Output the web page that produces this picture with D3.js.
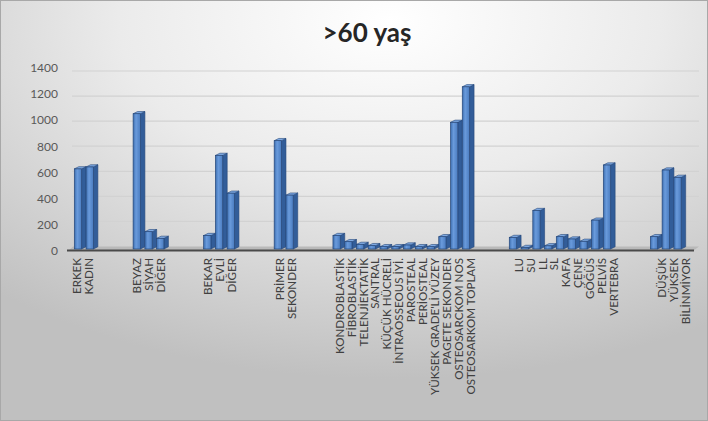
<!DOCTYPE html>
<html>
<head>
<meta charset="utf-8">
<script src="https://cdn.jsdelivr.net/npm/d3@7"></script>
<style>
  html, body { margin: 0; padding: 0; background: #ffffff; }
  svg { display: block; }
</style>
</head>
<body>
<svg id="chart" width="708" height="421"></svg>
<script>
// Category groups and their counts for patients over 60
const sexLabels = ["ERKEK", "KADIN"];
const sexValues = [625, 640];

const raceLabels = ["BEYAZ", "SİYAH", "DİĞER"];
const raceValues = [1055, 135, 83];

const maritalLabels = ["BEKAR", "EVLİ", "DİĞER"];
const maritalValues = [105, 730, 435];

const originLabels = ["PRİMER", "SEKONDER"];
const originValues = [845, 420];

const histologyLabels = ["KONDROBLASTİK", "FİBROBLASTİK", "TELENJİEKTATİK", "SANTRAL",
  "KÜÇÜK HÜCRELİ", "İNTRAOSSEOUS İYİ.", "PAROSTEAL", "PERİOSTEAL",
  "YÜKSEK GRADE'Lİ YÜZEY", "PAGETE SEKONDER", "OSTEOSARCKOM NOS", "OSTEOSARKOM TOPLAM"];
const histologyValues = [105, 57, 36, 26, 18, 18, 31, 18, 18, 96, 988, 1265];

const siteLabels = ["LU", "SU", "LL", "SL", "KAFA", "ÇENE", "GÖĞÜS", "PELVİS", "VERTEBRA"];
const siteValues = [90, 12, 300, 25, 96, 78, 60, 225, 655];

const gradeLabels = ["DÜŞÜK", "YÜKSEK", "BİLİNMİYOR"];
const gradeValues = [96, 616, 559];

const yTicks = [0, 200, 400, 600, 800, 1000, 1200, 1400];
const titleText = ">60 yaş";
const gapSlots = 3;

// Flatten the groups into one run of slots, with empty slots between groups
const groups = [
  [sexLabels, sexValues], [raceLabels, raceValues], [maritalLabels, maritalValues],
  [originLabels, originValues], [histologyLabels, histologyValues],
  [siteLabels, siteValues], [gradeLabels, gradeValues]
];
const slots = [];
groups.forEach(([labels, values], gi) => {
  if (gi > 0) for (let k = 0; k < gapSlots; k++) slots.push({ label: "", value: null });
  labels.forEach((l, i) => slots.push({ label: l, value: values[i] }));
});
const slotIds = d3.range(slots.length);

const svg = d3.select("#chart");
const W = 708, H = 421;

// Background
const defs = svg.append("defs");
const bg = defs.append("radialGradient").attr("id", "bg")
  .attr("cx", "0.55").attr("cy", "0.05").attr("r", "0.85")
  .attr("gradientUnits", "objectBoundingBox");
bg.append("stop").attr("offset", "0").attr("stop-color", "#ffffff");
bg.append("stop").attr("offset", "0.45").attr("stop-color", "#ebebeb");
bg.append("stop").attr("offset", "1").attr("stop-color", "#c0c0c0");

const front = defs.append("linearGradient").attr("id", "barFront")
  .attr("x1", "0").attr("x2", "1").attr("y1", "0").attr("y2", "0");
front.append("stop").attr("offset", "0").attr("stop-color", "#3c6eb0");
front.append("stop").attr("offset", "0.4").attr("stop-color", "#6a9bdc");
front.append("stop").attr("offset", "1").attr("stop-color", "#4a7cc0");

svg.append("rect").attr("width", W).attr("height", H).attr("fill", "url(#bg)");
svg.append("rect").attr("x", 0.5).attr("y", 0.5).attr("width", W - 1).attr("height", H - 1)
  .attr("fill", "none").attr("stroke", "#a8a8a8");

// Scales: labels sit on the front plane, gridlines on the back wall, bars in between
const xLabel = d3.scaleBand().domain(slotIds).range([71.0, 691.7]);
const xBar = d3.scaleBand().domain(slotIds).range([73.6, 684.9]);
const yFront = d3.scaleLinear().domain([0, 1400]).range([251, 68]);
const yBack = d3.scaleLinear().domain([0, 1400]).range([246.5, 71]);
const yBar = d3.scaleLinear().domain([0, 1400]).range([249, 69.5]);

// Gridlines on back wall
svg.append("g").selectAll("line").data(yTicks.filter(t => t > 0)).join("line")
  .attr("x1", 72).attr("x2", 699)
  .attr("y1", d => yBack(d)).attr("y2", d => yBack(d))
  .attr("stroke", "#d2d2d2").attr("stroke-width", 1.2);

// Floor
const floorY0 = yBack(0), floorY1 = yFront(0);
svg.append("path")
  .attr("d", `M68,${floorY1} L693,${floorY1} L699,${floorY0} L73,${floorY0} Z`)
  .attr("fill", "#b9b9b9");
svg.append("line").attr("x1", 67).attr("x2", 694).attr("y1", floorY1 - 0.5).attr("y2", floorY1 - 0.5)
  .attr("stroke", "#4a4a4a").attr("stroke-width", 2);

// Y axis labels
svg.append("g").selectAll("text").data(yTicks).join("text")
  .attr("x", 58).attr("y", d => yFront(d)).attr("dy", "0.35em")
  .attr("text-anchor", "end")
  .attr("font-family", "Lato, 'Open Sans', sans-serif").attr("font-size", 12)
  .attr("fill", "#595959").text(d => d);

// Bars with depth
const faceW = 7.3, depthX = 4.5, depthY = 2.2;
const bars = svg.append("g").selectAll("g").data(slotIds.filter(i => slots[i].value !== null)).join("g");
bars.each(function (i) {
  const g = d3.select(this);
  const v = slots[i].value;
  const x0 = xBar(i) + xBar.bandwidth() / 2 - faceW / 2 - 1.5;
  const x1 = x0 + faceW;
  const top = yBar(v), base = yBar(0);
  g.append("path")
    .attr("d", `M${x1},${base} L${x1},${top} L${x1 + depthX},${top - depthY} L${x1 + depthX},${base - depthY} Z`)
    .attr("fill", "#325d99").attr("stroke", "#27487a").attr("stroke-width", 0.6);
  g.append("path")
    .attr("d", `M${x0},${top} L${x0 + depthX},${top - depthY} L${x1 + depthX},${top - depthY} L${x1},${top} Z`)
    .attr("fill", "#7ea9e2").attr("stroke", "#27487a").attr("stroke-width", 0.6);
  g.append("rect")
    .attr("x", x0).attr("y", top).attr("width", faceW).attr("height", base - top)
    .attr("fill", "url(#barFront)").attr("stroke", "#27487a").attr("stroke-width", 0.7);
});

// Category labels
svg.append("g").selectAll("text").data(slotIds.filter(i => slots[i].label)).join("text")
  .attr("transform", i => `translate(${xLabel(i) + xLabel.bandwidth() / 2},258) rotate(-90)`)
  .attr("dy", "0.35em")
  .attr("text-anchor", "end")
  .attr("font-family", "Lato, 'Open Sans', sans-serif").attr("font-size", 11.6)
  .attr("fill", "#404040")
  .text(i => slots[i].label);

// Title
svg.append("text").attr("x", 367).attr("y", 42).attr("text-anchor", "middle")
  .attr("font-family", "Lato, 'Open Sans', sans-serif").attr("font-size", 26)
  .attr("font-weight", "bold")
  .attr("fill", "#262626").text(titleText);
</script>
</body>
</html>
